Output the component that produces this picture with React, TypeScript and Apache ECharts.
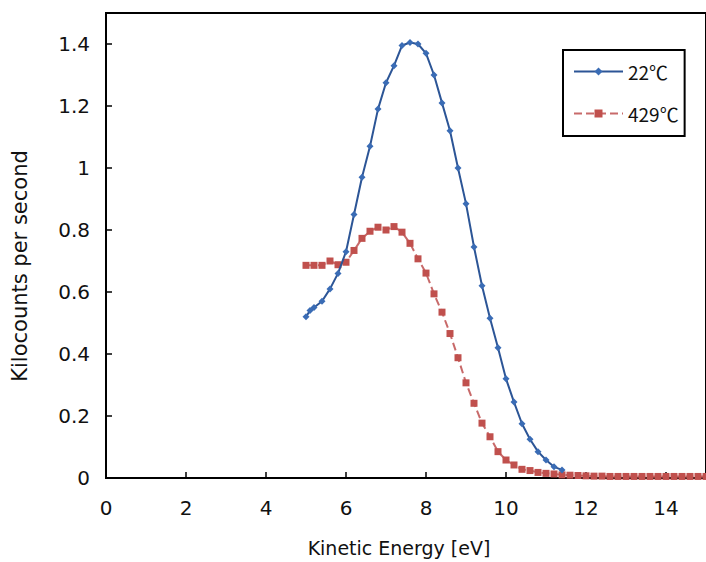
import React, { useEffect, useRef } from "react";
import * as echarts from "echarts";

const energy22 = [5.0, 5.1, 5.2, 5.4, 5.6, 5.8, 6.0, 6.2, 6.4, 6.6, 6.8, 7.0, 7.2, 7.4, 7.6, 7.8, 8.0, 8.2, 8.4, 8.6, 8.8, 9.0, 9.2, 9.4, 9.6, 9.8, 10.0, 10.2, 10.4, 10.6, 10.8, 11.0, 11.2, 11.4];
const counts22 = [0.52, 0.54, 0.55, 0.57, 0.61, 0.66, 0.73, 0.85, 0.97, 1.07, 1.19, 1.275, 1.33, 1.395, 1.405, 1.4, 1.37, 1.3, 1.21, 1.12, 1.0, 0.885, 0.745, 0.62, 0.515, 0.42, 0.32, 0.245, 0.175, 0.125, 0.085, 0.058, 0.036, 0.026];

const energy429 = [5.0, 5.2, 5.4, 5.6, 5.8, 6.0, 6.2, 6.4, 6.6, 6.8, 7.0, 7.2, 7.4, 7.6, 7.8, 8.0, 8.2, 8.4, 8.6, 8.8, 9.0, 9.2, 9.4, 9.6, 9.8, 10.0, 10.2, 10.4, 10.6, 10.8, 11.0, 11.2, 11.4, 11.6, 11.8, 12.0, 12.2, 12.4, 12.6, 12.8, 13.0, 13.2, 13.4, 13.6, 13.8, 14.0, 14.2, 14.4, 14.6, 14.8, 15.0];
const counts429 = [0.686, 0.686, 0.686, 0.7, 0.688, 0.696, 0.734, 0.773, 0.796, 0.809, 0.8, 0.811, 0.793, 0.757, 0.707, 0.661, 0.594, 0.535, 0.466, 0.388, 0.307, 0.241, 0.177, 0.133, 0.085, 0.058, 0.042, 0.028, 0.024, 0.018, 0.015, 0.013, 0.01, 0.009, 0.008, 0.007, 0.006, 0.006, 0.005, 0.005, 0.005, 0.005, 0.005, 0.005, 0.005, 0.005, 0.005, 0.005, 0.005, 0.005, 0.005];

const seriesNames = ["22℃", "429℃"];
const xTitle = "Kinetic Energy [eV]";
const yTitle = "Kilocounts per second";

const FONT_CJK = "'Noto Sans CJK JP', 'Noto Sans', sans-serif";
const FONT = "'DejaVu Sans', 'Noto Sans', sans-serif";

export default function App() {
  const ref = useRef<HTMLDivElement>(null);
  useEffect(() => {
    if (!ref.current) return;
    const chart = echarts.init(ref.current, undefined, { renderer: "svg" });
    const d22 = energy22.map((x, i) => [x, counts22[i]]);
    const d429 = energy429.map((x, i) => [x, counts429[i]]);
    chart.setOption({
      animation: false,
      backgroundColor: "#ffffff",
      textStyle: { fontFamily: FONT },
      grid: {
        left: 106,
        top: 13,
        right: -6,
        bottom: 84,
        show: true,
        borderColor: "#000",
        borderWidth: 2,
        backgroundColor: "transparent",
      },
      legend: {
        orient: "vertical",
        left: 563,
        top: 50,
        itemWidth: 49,
        itemHeight: 10,
        itemGap: 23,
        padding: [12, 6, 13, 10],
        borderColor: "#000",
        borderWidth: 2,
        backgroundColor: "#fff",
        textStyle: { fontSize: 19, color: "#111", fontFamily: FONT_CJK },
        data: seriesNames,
      },
      xAxis: {
        type: "value",
        min: 0,
        max: 15,
        interval: 2,
        axisLine: { show: true, lineStyle: { color: "#000", width: 2 } },
        axisTick: { show: true, inside: true, length: 6, lineStyle: { color: "#000", width: 1.5 } },
        axisLabel: { fontSize: 20, color: "#111", margin: 20, showMaxLabel: false, fontFamily: FONT },
        splitLine: { show: false },
      },
      yAxis: {
        type: "value",
        min: 0,
        max: 1.5,
        interval: 0.2,
        axisLine: { show: true, lineStyle: { color: "#000", width: 2 } },
        axisTick: { show: true, inside: true, length: 6, lineStyle: { color: "#000", width: 1.5 } },
        axisLabel: { fontSize: 20, color: "#111", margin: 16, showMaxLabel: false, fontFamily: FONT },
        splitLine: { show: false },
      },
      graphic: [
        {
          type: "text",
          x: 399,
          y: 548,
          style: { text: xTitle, fontSize: 19, fill: "#111", align: "center", verticalAlign: "middle", fontFamily: FONT },
        },
        {
          type: "text",
          x: 20,
          y: 266,
          rotation: Math.PI / 2,
          style: { text: yTitle, fontSize: 21, fill: "#111", align: "center", verticalAlign: "middle", fontFamily: FONT },
        },
      ],
      series: [
        {
          name: seriesNames[0],
          type: "line",
          data: d22,
          symbol: "diamond",
          symbolSize: 7,
          itemStyle: { color: "#3a6cb5" },
          lineStyle: { color: "#2c5596", width: 2 },
          z: 3,
        },
        {
          name: seriesNames[1],
          type: "line",
          data: d429,
          symbol: "rect",
          symbolSize: 7,
          itemStyle: { color: "#c0504d" },
          lineStyle: { color: "#c86a6a", width: 2, type: "dashed" },
          z: 2,
        },
      ],
    });
    return () => chart.dispose();
  }, []);
  return (
    <div
      ref={ref}
      style={{ position: "fixed", left: 0, top: 0, width: 706, height: 562, background: "#fff" }}
    />
  );
}
